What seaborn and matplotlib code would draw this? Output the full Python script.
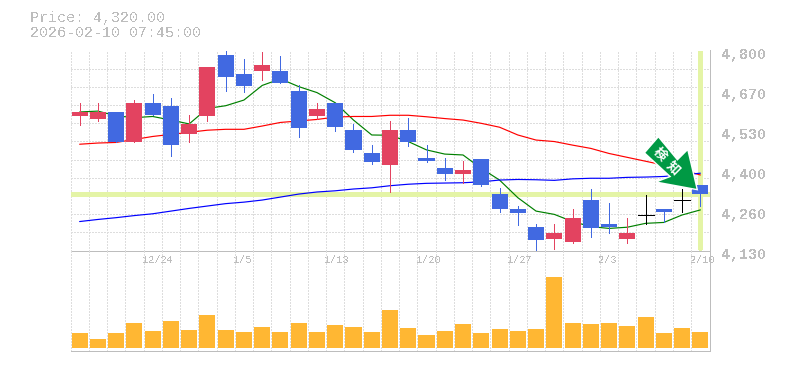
import numpy as np
import matplotlib
matplotlib.use("Agg")
import matplotlib.pyplot as plt
import matplotlib.patheffects as pe
from matplotlib.patches import Polygon
from matplotlib.transforms import IdentityTransform, ScaledTranslation
import seaborn as sns

opens = [4580, 4570, 4595, 4495, 4625, 4615, 4520, 4580, 4785, 4720, 4730, 4730,
         4665, 4580, 4625, 4535, 4455, 4415, 4535, 4440, 4405, 4385, 4435, 4320,
         4270, 4210, 4170, 4160, 4300, 4220, 4170, 4250, 4270, 4300, 4350]
closes = [4595, 4595, 4495, 4625, 4585, 4485, 4555, 4745, 4710, 4680, 4750, 4690,
          4540, 4605, 4545, 4465, 4425, 4535, 4495, 4430, 4385, 4400, 4350, 4270,
          4255, 4165, 4190, 4240, 4205, 4210, 4190, 4250, 4260, 4300, 4320]
highs = [4625, 4625, 4595, 4635, 4655, 4640, 4585, 4745, 4800, 4770, 4795, 4780,
         4685, 4625, 4625, 4555, 4485, 4565, 4575, 4485, 4440, 4430, 4435, 4340,
         4280, 4220, 4220, 4270, 4335, 4290, 4240, 4315, 4270, 4335, 4350]
lows = [4550, 4565, 4495, 4495, 4585, 4445, 4495, 4565, 4665, 4660, 4700, 4690,
        4510, 4570, 4530, 4460, 4420, 4325, 4480, 4425, 4365, 4355, 4345, 4260,
        4215, 4130, 4135, 4155, 4175, 4190, 4155, 4220, 4225, 4260, 4280]
ma_short = [4594, 4597, 4581, 4575, 4579, 4567, 4554, 4606, 4615, 4634, 4683, 4705,
            4679, 4659, 4625, 4567, 4517, 4516, 4495, 4467, 4453, 4450, 4405, 4366,
            4307, 4262, 4251, 4227, 4210, 4204, 4208, 4221, 4224, 4249, 4266]
ma_mid = [4486, 4490, 4492, 4502, 4512, 4519, 4526, 4533, 4536, 4536, 4547, 4559,
          4564, 4569, 4577, 4579, 4579, 4583, 4583, 4578, 4572, 4567, 4556, 4543,
          4517, 4500, 4495, 4483, 4472, 4455, 4442, 4429, 4416, 4400, 4383]
ma_long = [4227, 4234, 4240, 4247, 4253, 4262, 4271, 4279, 4287, 4292, 4299, 4309,
           4319, 4326, 4330, 4336, 4340, 4347, 4352, 4355, 4356, 4357, 4360, 4366,
           4368, 4367, 4365, 4370, 4372, 4372, 4375, 4376, 4378, 4383, 4389]
volumes = [45, 27, 45, 75, 51, 81, 54, 99, 54, 48, 63, 48, 75, 48, 69, 63, 48, 114,
           60, 39, 51, 72, 45, 57, 51, 57, 213, 75, 72, 75, 66, 93, 45, 60, 48]
date_idx = [4, 9, 14, 19, 24, 29, 34]
date_labels = ["12/24", "1/5", "1/13", "1/20", "1/27", "2/3", "2/10"]
price_labels = ["4,130", "4,260", "4,400", "4,530", "4,670", "4,800"]
price_now = 4320

UP = "#e34360"
DOWN = "#4169e1"
GRAY = "#bdbdbd"
GRID = "#dddddd"
YELLOW = "#e4f4a6"
W, H = 785, 370
PX = 0.72

sns.set_style("white")
plt.rcParams["font.family"] = ["Liberation Mono", "DejaVu Sans"]
plt.rcParams["text.antialiased"] = False
plt.rcParams["lines.antialiased"] = False
plt.rcParams["patch.antialiased"] = False

fig = plt.figure(figsize=(W / 100, H / 100), dpi=100)
ax = fig.add_axes([70.5 / W, 1 - 250.5 / H, 639 / W, 200 / H])
ax_vol = fig.add_axes([70.5 / W, 1 - 350.5 / H, 639 / W, 100 / H])

days = np.arange(len(opens))
grid_kw = dict(color=GRID, lw=PX, ls=(0, (2, 2)), clip_on=False)

# price panel
ax.set_xlim(-0.5, 34.5)
ax.set_ylim(4130, 4800)
ax.set_xticks(np.arange(-0.5, 35), minor=True)
ax.set_yticks(np.linspace(4130, 4800, 12), minor=True)
ax.grid(which="minor", **grid_kw)
ax.set_axisbelow(True)

ax.axhline(price_now, color=YELLOW, lw=2.2, zorder=1.2)
ax.axvline(days[-1], ymin=0.01, ymax=1, color=YELLOW, lw=2.2, zorder=1.2)

line_kw = dict(ax=ax, zorder=2, errorbar=None)
sns.lineplot(x=days, y=ma_short, color="#008000", **line_kw)
sns.lineplot(x=days, y=ma_mid, color="#ff0000", **line_kw)
sns.lineplot(x=days, y=ma_long, color="#0000ff", **line_kw)
for ln in ax.get_lines()[-3:]:
    ln.set_linewidth(0.85)
    ln.set_antialiased(True)

for d, o, c, hi, lo in zip(days, opens, closes, highs, lows):
    col = "black" if o == c else (UP if c > o else DOWN)
    ax.vlines(d, lo, hi, color=col, lw=PX, zorder=3)
    if o == c:
        ax.hlines(o, d - 0.44, d + 0.44, color=col, lw=PX, zorder=3)
    else:
        ax.bar(d, abs(c - o), bottom=min(o, c), width=0.88, color=col, lw=0, zorder=3)

ax.set_xticks(date_idx)
ax.set_xticklabels(date_labels, fontsize=7.4, color=GRAY, ha="left")
ax.set_yticks(np.linspace(4130, 4800, 6))
ax.set_yticklabels(price_labels, fontsize=10.8, color=GRAY, fontweight="bold")
ax.yaxis.tick_right()
ax.tick_params(axis="both", which="both", length=0)
ax.tick_params(axis="x", pad=3)
ax.tick_params(axis="y", pad=9)
shift_y = ScaledTranslation(0, -2.5 / 72, fig.dpi_scale_trans)
for lab in ax.get_yticklabels():
    lab.set_transform(lab.get_transform() + shift_y)
shift_x = ScaledTranslation(-10.5 / 100, 0, fig.dpi_scale_trans)
for lab in ax.get_xticklabels():
    lab.set_transform(lab.get_transform() + shift_x)
for side in ["top", "left"]:
    ax.spines[side].set_visible(False)
for side in ["bottom", "right"]:
    ax.spines[side].set_color(GRAY)
    ax.spines[side].set_linewidth(PX)

# volume panel
sns.barplot(x=days, y=volumes, color="#ffb733", saturation=1, width=0.88, ax=ax_vol,
            zorder=3, linewidth=0)
ax_vol.set_xlim(-0.5, 34.5)
ax_vol.set_ylim(-7, 293)
ax_vol.set_xticks([])
ax_vol.set_yticks([])
ax_vol.set_xticks(np.arange(-0.5, 35), minor=True)
ax_vol.grid(which="minor", axis="x", **grid_kw)
ax_vol.set_axisbelow(True)
ax_vol.set_xlabel("")
ax_vol.set_ylabel("")
ax_vol.tick_params(which="both", length=0)
ax_vol.patch.set_alpha(0)
for side in ["top", "left"]:
    ax_vol.spines[side].set_visible(False)
for side in ["bottom", "right"]:
    ax_vol.spines[side].set_color(GRAY)
    ax_vol.spines[side].set_linewidth(PX)

# signal arrow, placed relative to the last candle
fig.canvas.draw()
tip_x, tip_y = ax.transData.transform((days[-1], closes[-1]))
outline = [(-42, 56), (-55, 41), (-29, 17), (-42, 12), (-4, 5), (-13, 43), (-23, 33)]
arrow = Polygon([(tip_x + px, tip_y + py) for px, py in outline], closed=True,
                transform=IdentityTransform(), facecolor="#009944", edgecolor="none",
                zorder=6, antialiased=True,
                path_effects=[pe.withStroke(linewidth=2, foreground="white")])
fig.add_artist(arrow)
for ch, px, py in [("検", -40, 40), ("知", -27, 26)]:
    fig.text(tip_x + px, tip_y + py, ch, transform=IdentityTransform(), color="white",
             fontsize=9.5, fontweight="bold", family=["Noto Sans CJK JP", "DejaVu Sans"],
             rotation=-45, ha="center", va="center", zorder=7, antialiased=True)

# header text
fig.text(29.5 / W, 1 - 18 / H, "Price: 4,320.00", fontsize=10.8, color=GRAY, va="center")
fig.text(29.5 / W, 1 - 33 / H, "2026-02-10 07:45:00", fontsize=10.8, color=GRAY, va="center")

fig.savefig("out.png", dpi=100)
